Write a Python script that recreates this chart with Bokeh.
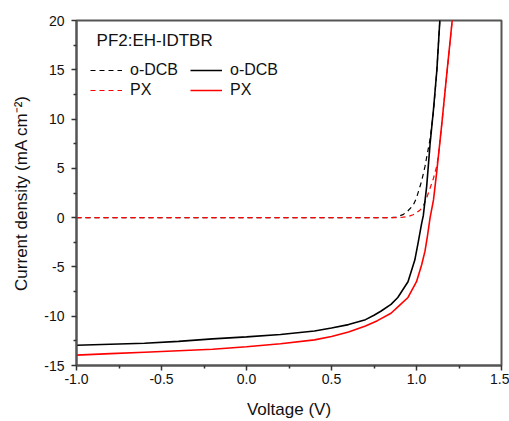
from bokeh.plotting import figure
from bokeh.models import (Range1d, FixedTicker, PrintfTickFormatter, Legend,
                          LegendItem, Label)
from bokeh.embed import file_html
from bokeh.resources import INLINE

# o-DCB, dark (dashed)
v_dcb_dark = [-1.0, -0.5, 0.0, 0.5, 0.85, 0.88, 0.92, 0.95, 0.98, 1.0, 1.03,
              1.05, 1.08, 1.10, 1.12, 1.14]
j_dcb_dark = [0.0, 0.0, 0.0, 0.0, 0.0, 0.05, 0.3, 0.7, 1.25, 2.0, 3.7,
              5.2, 8.0, 10.8, 15.0, 20.8]
# PX, dark (dashed)
v_px_dark = [-1.0, -0.5, 0.0, 0.5, 0.9, 0.95, 0.98, 1.0, 1.02, 1.04, 1.06,
             1.08, 1.10, 1.12, 1.13, 1.15, 1.18, 1.21, 1.22]
j_px_dark = [0.0, 0.0, 0.0, 0.0, 0.0, 0.1, 0.3, 0.5, 0.75, 1.2, 2.0,
             3.0, 4.0, 5.3, 6.5, 9.7, 14.8, 20.0, 21.5]
# o-DCB, light (solid)
v_dcb_light = [-1.0, -0.8, -0.6, -0.4, -0.2, 0.0, 0.2, 0.4, 0.5, 0.6, 0.7,
               0.75, 0.79, 0.85, 0.89, 0.95, 0.99, 1.01, 1.03, 1.04, 1.06,
               1.08, 1.10, 1.12, 1.14]
j_dcb_light = [-12.95, -12.85, -12.75, -12.55, -12.3, -12.1, -11.85, -11.5,
               -11.2, -10.85, -10.35, -9.9, -9.5, -8.8, -8.1, -6.5, -4.3,
               -2.5, -0.6, 0.2, 3.2, 7.5, 11.0, 15.0, 20.8]
# PX, light (solid)
v_px_light = [-1.0, -0.8, -0.6, -0.4, -0.2, 0.0, 0.2, 0.4, 0.5, 0.6, 0.7,
              0.77, 0.85, 0.9, 0.95, 1.0, 1.03, 1.05, 1.065, 1.08, 1.10,
              1.12, 1.15, 1.18, 1.21, 1.22]
j_px_light = [-13.95, -13.8, -13.65, -13.5, -13.35, -13.1, -12.8, -12.4,
              -12.05, -11.6, -11.0, -10.45, -9.7, -8.9, -8.1, -6.5, -4.8,
              -3.4, -1.8, 0.0, 1.8, 4.8, 9.7, 14.9, 20.0, 21.5]

x_ticks = [-1.0, -0.5, 0.0, 0.5, 1.0, 1.5]
x_minor = [-0.75, -0.25, 0.25, 0.75, 1.25]
y_ticks = [-15, -10, -5, 0, 5, 10, 15, 20]
y_minor = [-12.5, -7.5, -2.5, 2.5, 7.5, 12.5, 17.5]

FONT = "Liberation Sans"

p = figure(width=509, height=421, output_backend="svg", toolbar_location=None,
           x_range=Range1d(-1.0, 1.5), y_range=Range1d(-15, 20),
           min_border_left=76, min_border_right=8, min_border_top=20,
           min_border_bottom=54)
p.background_fill_color = "white"
p.border_fill_color = "white"
p.grid.visible = False
p.outline_line_color = "#555555"
p.outline_line_width = 2

p.xaxis.ticker = FixedTicker(ticks=x_ticks, minor_ticks=x_minor)
p.yaxis.ticker = FixedTicker(ticks=y_ticks, minor_ticks=y_minor)
p.xaxis.formatter = PrintfTickFormatter(format="%.1f")
p.yaxis.formatter = PrintfTickFormatter(format="%d")
for ax in (p.xaxis[0], p.yaxis[0]):
    ax.axis_line_color = "#555555"
    ax.axis_line_width = 2
    ax.major_tick_line_color = "#333333"
    ax.minor_tick_line_color = "#333333"
    ax.major_tick_line_width = 1.5
    ax.minor_tick_line_width = 1.5
    ax.major_tick_out = 5
    ax.major_tick_in = 0
    ax.minor_tick_out = 3
    ax.minor_tick_in = 0
    ax.major_label_text_font = FONT
    ax.major_label_text_font_size = "14px"
    ax.major_label_text_color = "#111111"
    ax.axis_label_text_font = FONT
    ax.axis_label_text_font_size = "17px"
    ax.axis_label_text_font_style = "normal"
    ax.axis_label_text_color = "#111111"
p.xaxis.axis_label = "Voltage (V)"
p.yaxis.axis_label = "Current density (mA cm\u207b\u00b2)"
p.xaxis.major_label_standoff = 3
p.xaxis.axis_label_standoff = 13
p.yaxis.major_label_standoff = 7
p.yaxis.axis_label_standoff = 10

r1 = p.line(v_dcb_dark, j_dcb_dark, line_color="black", line_width=1.2,
            line_dash="5 4")
r2 = p.line(v_px_dark, j_px_dark, line_color="red", line_width=1.2,
            line_dash="5 4")
r3 = p.line(v_dcb_light, j_dcb_light, line_color="black", line_width=1.6)
r4 = p.line(v_px_light, j_px_light, line_color="red", line_width=1.6)

title = Label(x=-0.882, y=17.95, text="PF2:EH-IDTBR", text_font=FONT,
              text_font_size="17px", text_baseline="middle", text_align="left",
              text_color="#111111")
p.add_layout(title)

legend = Legend(items=[LegendItem(label="o-DCB", renderers=[r1]),
                       LegendItem(label="PX", renderers=[r2]),
                       LegendItem(label="o-DCB", renderers=[r3]),
                       LegendItem(label="PX", renderers=[r4])],
                location=(14, 265), orientation="vertical", ncols=2,
                margin=0, padding=0, spacing=0,
                glyph_width=32, glyph_height=20, label_height=20,
                label_width=60, label_standoff=8,
                label_text_font=FONT, label_text_font_size="16px",
                label_text_color="#111111",
                background_fill_alpha=0, border_line_color=None)
p.add_layout(legend)

open("out.html", "w").write(file_html(p, INLINE))
